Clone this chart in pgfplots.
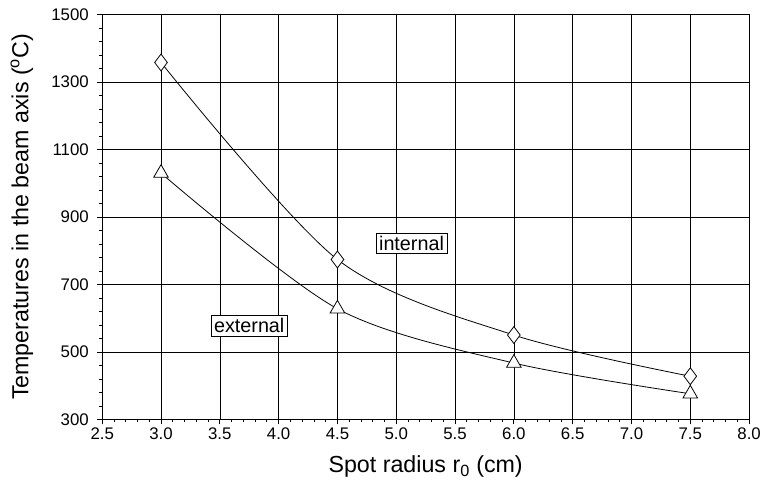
\documentclass[border=0pt]{standalone}
\usepackage{pgfplots}
\pgfplotsset{compat=1.18}
\usepackage{fontspec}
\setmainfont{Liberation Sans}
\begin{document}
\begin{tikzpicture}
\begin{axis}[
  name=ax,
  scale only axis,
  width=652bp, height=408bp,
  xmin=2.5, xmax=8.0, ymin=300, ymax=1500,
  xtick={2.5,3.0,3.5,4.0,4.5,5.0,5.5,6.0,6.5,7.0,7.5,8.0},
  ytick={300,500,700,900,1100,1300,1500},
  minor x tick num=4, minor y tick num=4,
  tick align=outside, xtick pos=bottom, ytick pos=left,
  major tick length=5bp, minor tick length=3bp,
  grid=major, major grid style={black, line width=0.6bp},
  axis line style={line width=1.2bp},
  every tick/.style={black, line width=0.8bp},
  xticklabel={\fontsize{17}{19}\selectfont\pgfmathprintnumber[assume math mode=true,fixed,fixed zerofill,precision=1]{\tick}},
  yticklabel={\fontsize{17}{19}\selectfont\pgfmathprintnumber[assume math mode=true,fixed,precision=0,1000 sep={}]{\tick}},
  yticklabel style={xshift=-5bp},
  label style={font=\fontsize{23.5}{26}\selectfont},
  xlabel={Spot radius r\textsubscript{0} (cm)},
  ylabel={Temperatures in the beam axis (\textsuperscript{o}C)},
  xlabel style={at={(axis description cs:0.5,-0.116)}, anchor=center},
  ylabel style={at={(axis description cs:-0.124,0.5)}, anchor=center},
]
\addplot[black, line width=0.8bp, smooth, mark=diamond*, mark size=8.5bp, mark options={fill=white, solid}]
  coordinates {(3.0,1358) (4.5,774) (6.0,550) (7.5,428)};
\addplot[black, line width=0.8bp, smooth, mark=triangle*, mark size=8.5bp, mark options={fill=white, solid}]
  coordinates {(3.0,1030) (4.5,628) (6.0,467) (7.5,376)};
\node[draw, fill=white, font=\fontsize{20}{22}\selectfont, inner sep=3bp, line width=0.6bp] at (axis cs:5.13,822) {internal};
\node[draw, fill=white, font=\fontsize{20}{22}\selectfont, inner sep=3bp, line width=0.6bp] at (axis cs:3.75,578) {external};
\end{axis}
\pgfresetboundingbox
\path (ax.south west) ++(-103bp,-73.3bp) rectangle ++(768bp,496bp);
\end{tikzpicture}
\end{document}
